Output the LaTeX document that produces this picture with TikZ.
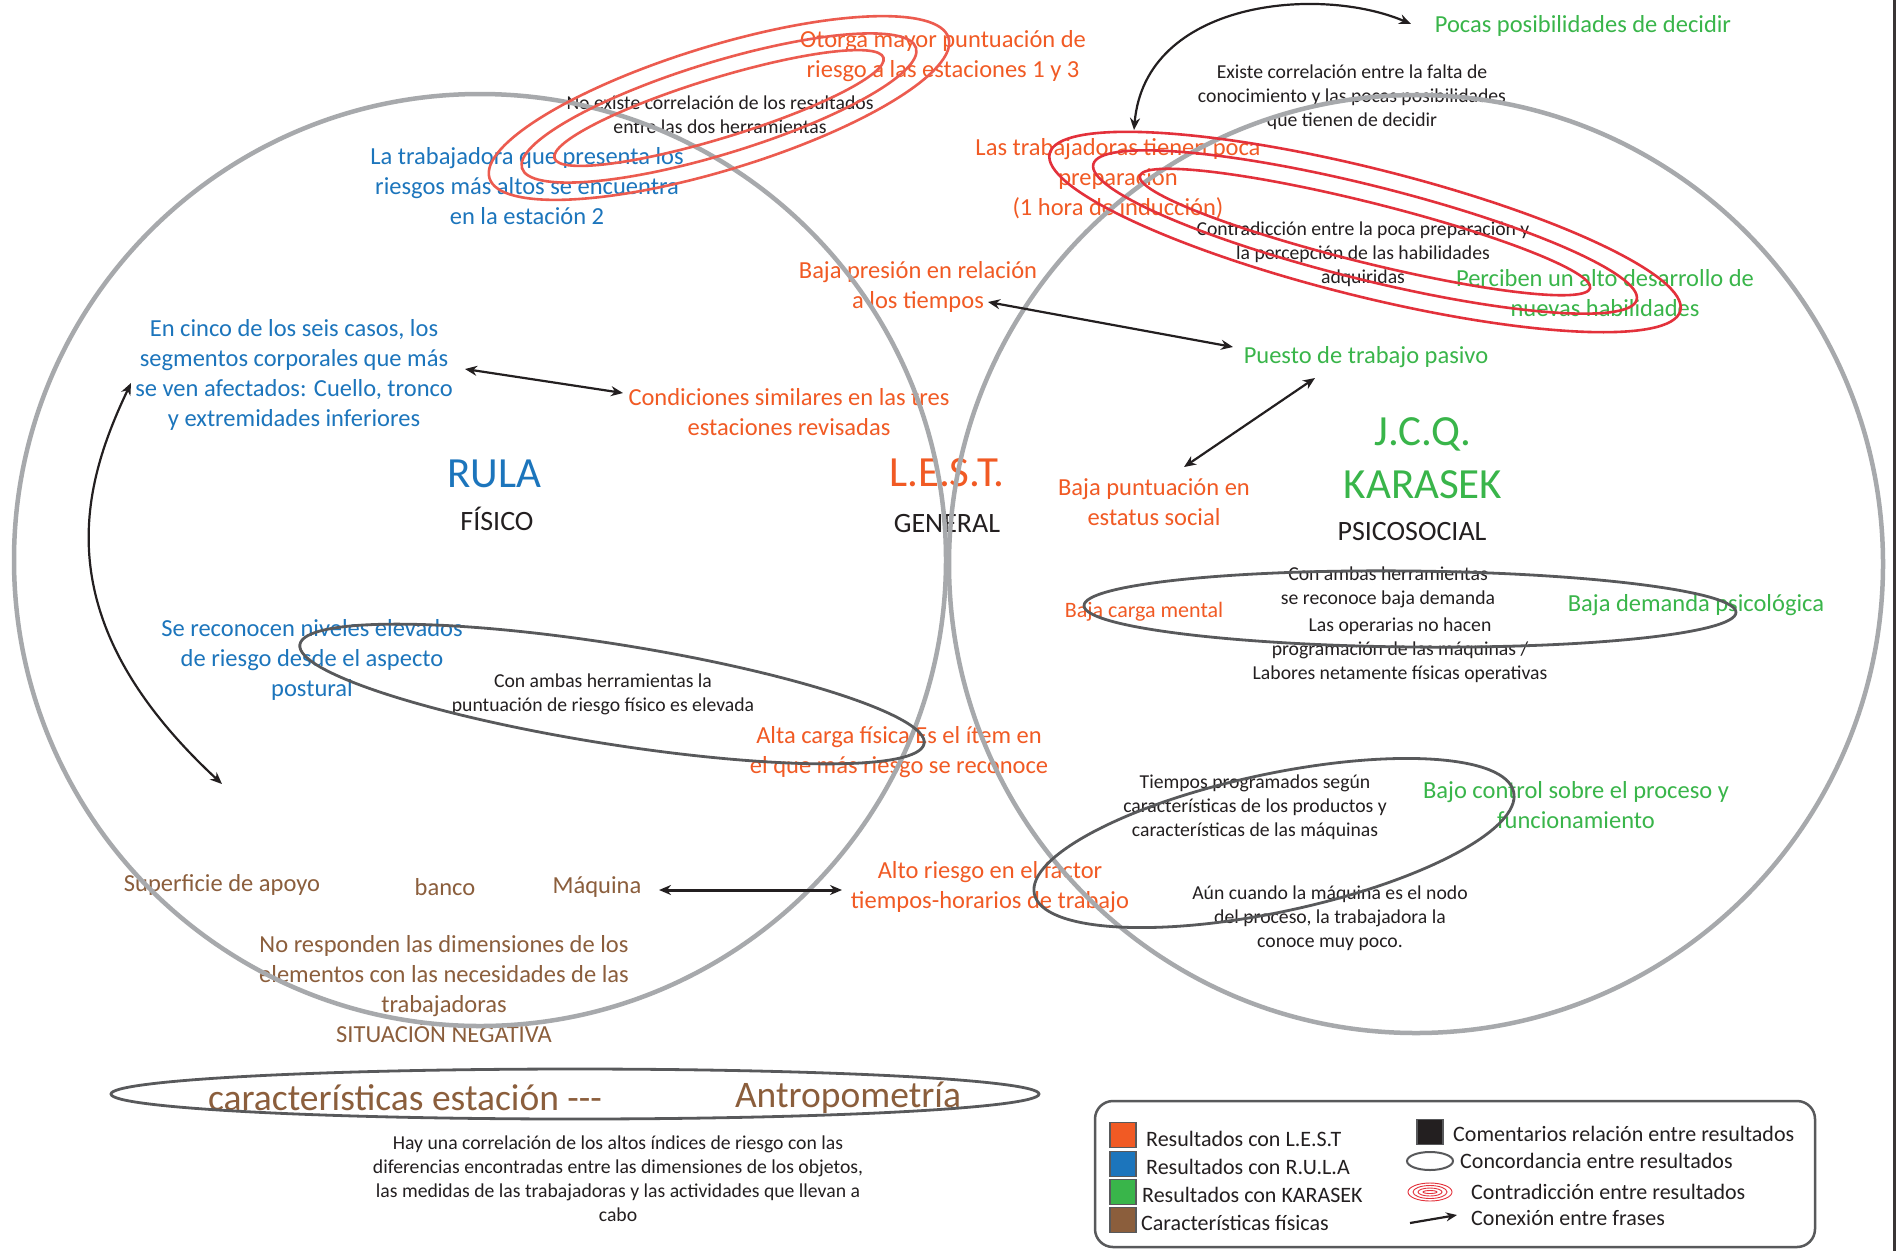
\documentclass[tikz,border=0pt]{standalone}
\usepackage{fontspec}
\setmainfont{Carlito}
\usetikzlibrary{arrows.meta,calc}

\definecolor{lestc}{HTML}{F15A24}
\definecolor{rulac}{HTML}{1C75BC}
\definecolor{karc}{HTML}{39B54A}
\definecolor{fisc}{HTML}{8B5E3C}
\definecolor{comc}{HTML}{231F20}
\definecolor{venn}{HTML}{A7A9AC}
\definecolor{concc}{HTML}{58595B}
\definecolor{contraL}{HTML}{EC5B4F}
\definecolor{contraR}{HTML}{E3313B}

\tikzset{
  lbl/.style={inner sep=0pt, align=center, font=\fontsize{24.5}{30}\selectfont},
  lest/.style={lbl, text=lestc},
  rula/.style={lbl, text=rulac},
  kar/.style={lbl, text=karc},
  fis/.style={lbl, text=fisc},
  com/.style={inner sep=0pt, align=center, text=comc, font=\fontsize{19.7}{24}\selectfont},
  title/.style={inner sep=0pt, align=center, font=\fontsize{43}{53}\selectfont},
  sub/.style={inner sep=0pt, text=comc, font=\fontsize{28}{34}\selectfont},
  big/.style={inner sep=0pt, text=fisc, font=\fontsize{37.5}{45}\selectfont},
  leg/.style={inner sep=0pt, anchor=west, text=comc, font=\fontsize{22}{26}\selectfont},
  sq/.style={draw=concc, line width=1.5pt, minimum width=26pt, minimum height=25pt, inner sep=0pt},
  vennc/.style={draw=venn, line width=4.5pt},
  conc/.style={draw=concc, line width=2.8pt},
  contraLs/.style={draw=contraL, line width=2.6pt},
  contraRs/.style={draw=contraR, line width=2.6pt},
  link/.style={draw=comc, line width=2.2pt, {Stealth[length=12pt,width=10pt]}-{Stealth[length=12pt,width=10pt]}},
}

\begin{document}
\begin{tikzpicture}[x=1pt,y=-1pt]
\useasboundingbox (0,0) rectangle (1897,1251);
\fill[white] (0,0) rectangle (1897,1251);

% ---- RULA side (physical) ----
\node[rula] (trab2) at (527,186) {La trabajadora que presenta los\\riesgos más altos se encuentra\\en la estación 2};
\node[rula] (cinco) at (294,375) {En cinco de los seis casos, los\\segmentos corporales que más\\se ven afectados: Cuello, tronco\\y extremidades inferiores};
\node[title, text=rulac] (rula) at (494,474) {RULA};
\node[sub] (fisico) at (497,519) {FÍSICO};
\node[rula] (postural) at (312,660) {Se reconocen niveles elevados\\de riesgo desde el aspecto\\postural};
\node[com] (ambas1) at (603,694) {Con ambas herramientas la\\puntuación de riesgo físico es elevada};

% ---- L.E.S.T. (general) ----
\node[lest] (otorga) at (943,56) {Otorga mayor puntuación de\\riesgo a las estaciones 1 y 3};
\node[com] (noexiste) at (720,115) {No existe correlación de los resultados\\entre las dos herramientas};
\node[lest] (poca) at (1118,179) {Las trabajadoras tienen poca\\preparación\\(1 hora de inducción)};
\node[lest] (presion) at (918,287) {Baja presión en relación\\a los tiempos};
\node[lest] (condic) at (789,412) {Condiciones similares en las tres\\estaciones revisadas};
\node[title, text=lestc] (lest) at (947,473) {L.E.S.T.};
\node[sub] (general) at (947,523) {GENERAL};
\node[lest] (estatus) at (1154,502) {Baja puntuación en\\estatus social};
\node[lest, font=\fontsize{22}{26}\selectfont] (carga) at (1144,612) {Baja carga mental};
\node[lest] (alta) at (899,752) {Alta carga física Es el ítem en\\el que más riesgo se reconoce};
\node[lest] (altoriesgo) at (990,887) {Alto riesgo en el factor\\tiempos-horarios de trabajo};

% ---- KARASEK (psychosocial) ----
\node[kar] (pocas) at (1583,26) {Pocas posibilidades de decidir};
\node[com] (existe) at (1352,97) {Existe correlación entre la falta de\\conocimiento y las pocas posibilidades\\que tienen de decidir};
\node[com] (contra) at (1363,254) {Contradicción entre la poca preparación y\\la percepción de las habilidades\\adquiridas};
\node[kar] (perciben) at (1605,293) {Perciben un alto desarrollo de\\nuevas habilidades};
\node[kar] (puesto) at (1366,357) {Puesto de trabajo pasivo};
\node[title, text=karc] (karasek) at (1423,458) {J.C.Q.\\KARASEK};
\node[sub] (psico) at (1412,531) {PSICOSOCIAL};
\node[com] (ambas2) at (1388,587) {Con ambas herramientas\\se reconoce baja demanda};
\node[kar] (demanda) at (1696,605) {Baja demanda psicológica};
\node[com] (operarias) at (1400,650) {Las operarias no hacen\\programación de las máquinas /\\Labores netamente físicas operativas};
\node[com] (tiempos) at (1255,807) {Tiempos programados según\\características de los productos y\\características de las máquinas};
\node[kar] (control) at (1576,805) {Bajo control sobre el proceso y\\funcionamiento};
\node[com] (aun) at (1330,918) {Aún cuando la máquina es el nodo\\del proceso, la trabajadora la\\conoce muy poco.};

% ---- physical characteristics ----
\node[fis] (superf) at (222,885) {Superficie de apoyo};
\node[fis] (banco) at (445,887) {banco};
\node[fis] (maquina) at (597,887) {Máquina};
\node[fis] (norespond) at (444,989) {No responden las dimensiones de los\\elementos con las necesidades de las\\trabajadoras\\SITUACIÓN NEGATIVA};
\node[big] (caract) at (405,1098) {características estación -{}-{}-};
\node[big] (antrop) at (848,1098) {Antropometría};
\node[com] (hay) at (618,1179) {Hay una correlación de los altos índices de riesgo con las\\diferencias encontradas entre las dimensiones de los objetos,\\las medidas de las trabajadoras y las actividades que llevan a\\cabo};

% ---- the two tool circles ----
\draw[vennc] (480,560) circle [radius=466];
\draw[vennc] (1416,564) ellipse [x radius=467, y radius=469];

% ---- agreement ellipses ----
\draw[conc, rotate around={-9:(612,694)}] (612,694) ellipse [x radius=316, y radius=50];
\draw[conc, rotate around={-0.6:(1410,609)}] (1410,609) ellipse [x radius=326, y radius=38];
\draw[conc, rotate around={12:(1274,843)}] (1274,843) ellipse [x radius=245, y radius=69];
\draw[conc] (575,1094) ellipse [x radius=464, y radius=25];

% ---- contradiction rings ----
\foreach \a/\b in {172/30, 206/46, 240/62}
  \draw[contraLs, rotate around={17:(719,108)}] (719,108) ellipse [x radius=\a, y radius=\b];
\foreach \a/\b in {232/30, 280/47, 325/64}
  \draw[contraRs, rotate around={-14:(1365,232)}] (1365,232) ellipse [x radius=\a, y radius=\b];

% ---- connections between phrases ----
\coordinate (a5end) at (222,784);
\draw[link] ($(poca)+(16,-49)$) .. controls (1145,0) and (1320,-15) .. ($(pocas)+(-172,-2)$);
\draw[link] ($(presion)+(70,15)$) -- ($(puesto)+(-133,-10)$);
\draw[link] ($(puesto)+(-51,21)$) -- ($(estatus)+(30,-35)$);
\draw[link] ($(cinco)+(171,-6)$) -- ($(condic)+(-166,-19)$);
\draw[link] ($(cinco)+(-163,8)$) .. controls (80,490) and (45,620) .. (a5end);
\draw[link, line width=3pt] ($(maquina)+(62,3)$) -- ($(altoriesgo)+(-148,3)$);

% ---- legend ----
\draw[draw=concc, line width=2.5pt, rounded corners=18pt] (1095,1101) rectangle (1815,1247);
\node[sq, fill=lestc] (sqlest) at (1123,1135) {};
\node[sq, fill=rulac] (sqrula) at (1123,1164) {};
\node[sq, fill=karc] (sqkar) at (1123,1192) {};
\node[sq, fill=fisc] (sqfis) at (1123,1220) {};
\node[sq, fill=comc] (sqcom) at (1430,1132) {};
\node[leg] (tlest) at (1146,1139) {Resultados con L.E.S.T};
\node[leg] (trula) at (1146,1167) {Resultados con R.U.L.A};
\node[leg] (tkar) at (1142,1195) {Resultados con KARASEK};
\node[leg] (tfis) at (1141,1223) {Características físicas};
\node[leg] (tcom) at (1453,1134) {Comentarios relación entre resultados};
\draw[conc, line width=2pt] (1430,1161) ellipse [x radius=23, y radius=9];
\node[leg] (tconc) at (1460,1161) {Concordancia entre resultados};
\foreach \a/\b in {22/9, 17/6.5, 12/4, 7/1.5}
  \draw[draw=contraR, line width=0.9pt] (1430,1192) ellipse [x radius=\a, y radius=\b];
\node[leg] (tcontra) at (1471,1192) {Contradicción entre resultados};
\coordinate (legarr) at (1410,1223);
\node[leg] (tlink) at (1471,1218) {Conexión entre frases};
\draw[draw=comc, line width=2.2pt, -{Stealth[length=11pt,width=9pt]}] (legarr) -- ($(tlink.west)+(-14,-3)$);

% ---- right border ----
\draw[draw=comc!90, line width=3pt] (1894,0) -- (1894,1251);
\end{tikzpicture}
\end{document}
